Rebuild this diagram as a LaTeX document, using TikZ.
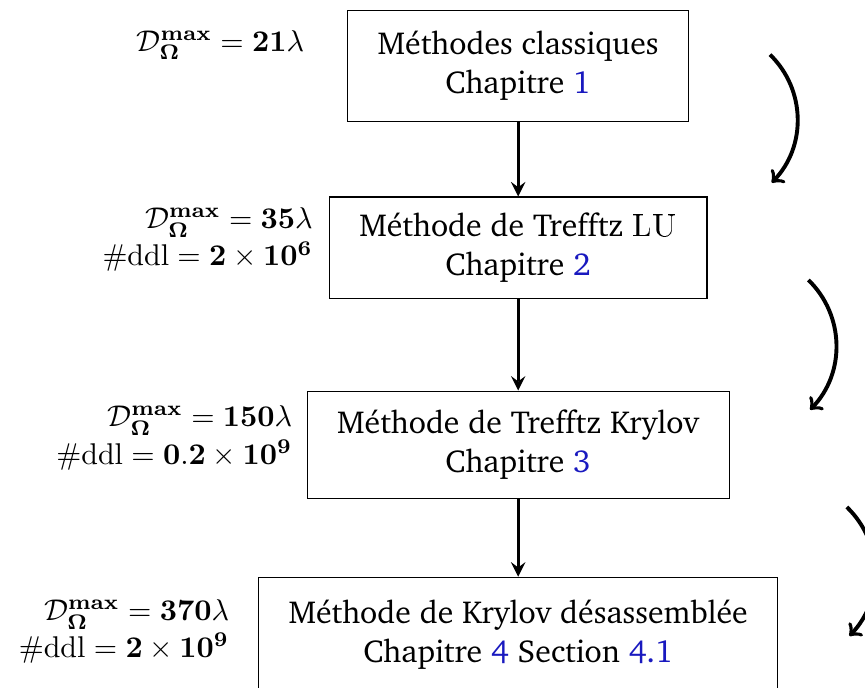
\documentclass[tikz,border=0pt]{standalone}
\usepackage[T1]{fontenc}
\usepackage{charter}
\usepackage{amsmath,amssymb,bm,xcolor}
\definecolor{refblue}{rgb}{0.1,0.1,0.75}
\newcommand{\dmax}[1]{\mathcal{D}^{\mathbf{max}}_{\bm{\Omega}}=\mathbf{#1}\lambda}
\newcommand{\nddl}[2]{\#\mathrm{ddl}=\mathbf{#1}\times\mathbf{10^{#2}}}

\begin{document}
\begin{tikzpicture}[font=\fontsize{10.6}{12.9}\selectfont,
                    box/.style={draw,align=center,inner xsep=10pt},
                    lab/.style={anchor=east,align=right,inner sep=0pt,font=\fontsize{10.3}{12.4}\selectfont}]
    \useasboundingbox (0,0) rectangle (10.133,-8.059);
    % boxes
    \node[box,minimum height=37pt] (classic) at (6.07,-0.77) {Méthodes classiques\\Chapitre \textcolor{refblue}{1}};
    \node[box,minimum height=33.7pt] (tlu) at (6.07,-2.90) {Méthode de Trefftz {\fontfamily{lmss}\selectfont LU}\\Chapitre \textcolor{refblue}{2}};
    \node[box,minimum height=35.7pt] (tkry) at (6.07,-5.21) {Méthode de Trefftz Krylov\\Chapitre \textcolor{refblue}{3}};
    \node[box,minimum height=38pt] (kdes) at (6.07,-7.43) {Méthode de Krylov désassemblée\\Chapitre \textcolor{refblue}{4} Section \textcolor{refblue}{4.1}};
    % labels
    \node[lab] (l1) at (3.57,-0.53) {$\dmax{21}$};
    \node[lab] (l2) at (3.67,-2.81) {$\dmax{35}$\\$\nddl{2}{6}$};
    \node[lab] (l3) at (3.43,-5.13) {$\dmax{150}$\\$\nddl{0.2}{9}$};
    \node[lab] (l4) at (2.69,-7.40) {$\dmax{370}$\\$\nddl{2}{9}$};
    % arrows
    \draw[-stealth,line width=1.1pt] (classic) -- (tlu);
    \draw[-stealth,line width=1.1pt] (tlu) -- (tkry);
    \draw[-stealth,line width=1.1pt] (tkry) -- (kdes);
    \coordinate (a1) at (9.02,-0.64);
    \coordinate (b1) at (9.04,-2.14);
    \coordinate (a2) at (9.47,-3.28);
    \coordinate (b2) at (9.49,-4.80);
    \coordinate (a3) at (9.92,-5.94);
    \coordinate (b3) at (9.95,-7.45);
    \foreach \i in {1,2,3}
        \draw[->,line width=1.3pt] (a\i) to[bend left=45] (b\i);
\end{tikzpicture}
\end{document}
